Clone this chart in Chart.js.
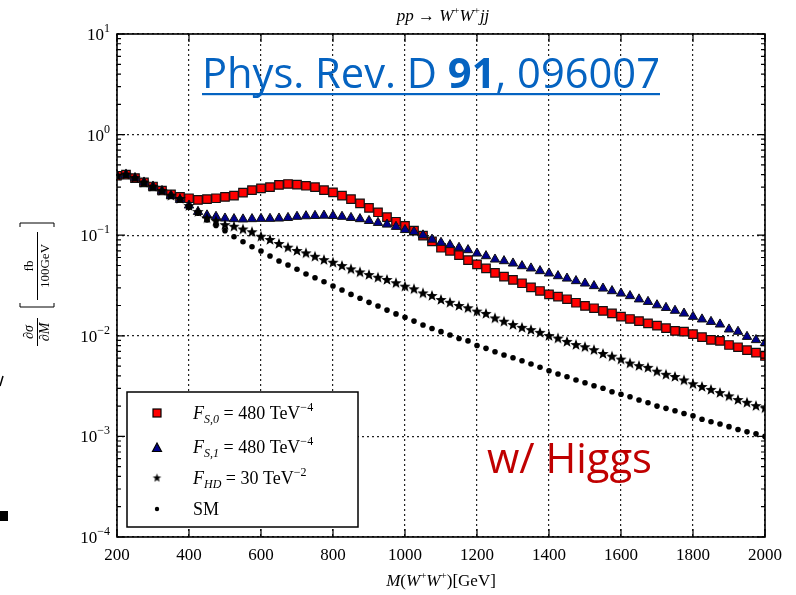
<!DOCTYPE html>
<html>
<head>
<meta charset="utf-8">
<script src="https://cdn.jsdelivr.net/npm/chart.js@4.4.1/dist/chart.umd.min.js"></script>
<style>
  html, body { margin: 0; padding: 0; background: #fff; }
  #wwChart { display: block; }
</style>
</head>
<body>
<canvas id="wwChart" width="796" height="595"></canvas>
<script>
// invariant mass of the W+W+ pair, GeV
const mass = [200, 225, 250, 275, 300, 325, 350, 375, 400, 425, 450, 475, 500, 525, 550, 575,
  600, 625, 650, 675, 700, 725, 750, 775, 800, 825, 850, 875, 900, 925, 950, 975,
  1000, 1025, 1050, 1075, 1100, 1125, 1150, 1175, 1200, 1225, 1250, 1275, 1300, 1325, 1350, 1375,
  1400, 1425, 1450, 1475, 1500, 1525, 1550, 1575, 1600, 1625, 1650, 1675, 1700, 1725, 1750, 1775,
  1800, 1825, 1850, 1875, 1900, 1925, 1950, 1975, 2000];

// dsigma/dM [fb / 100 GeV]
const fs0 = [0.39, 0.40, 0.37, 0.335, 0.305, 0.278, 0.255, 0.24, 0.233, 0.224, 0.228, 0.233, 0.24, 0.247, 0.265, 0.28,
  0.292, 0.30, 0.316, 0.323, 0.318, 0.31, 0.30, 0.28, 0.267, 0.247, 0.228, 0.207, 0.187, 0.169, 0.151, 0.136,
  0.124, 0.111, 0.099, 0.087, 0.075, 0.070, 0.0635, 0.0566, 0.0513, 0.0468, 0.0423, 0.0387, 0.0359, 0.0333, 0.0303, 0.0279,
  0.0258, 0.0245, 0.0231, 0.0213, 0.0198, 0.0188, 0.0177, 0.0167, 0.0155, 0.0147, 0.014, 0.0133, 0.0126, 0.0119, 0.0112, 0.011,
  0.0104, 0.0097, 0.0091, 0.0089, 0.0081, 0.0077, 0.0072, 0.0068, 0.0063];

const fs1 = [0.39, 0.40, 0.37, 0.335, 0.305, 0.275, 0.248, 0.225, 0.198, 0.171, 0.158, 0.153, 0.147, 0.145, 0.144, 0.145,
  0.146, 0.146, 0.147, 0.149, 0.153, 0.155, 0.156, 0.157, 0.156, 0.153, 0.149, 0.145, 0.139, 0.133, 0.128, 0.1215,
  0.113, 0.108, 0.100, 0.0906, 0.0843, 0.080, 0.0752, 0.0713, 0.066, 0.0621, 0.0575, 0.0554, 0.0525, 0.0494, 0.0469, 0.0441,
  0.0418, 0.0393, 0.0372, 0.0351, 0.0332, 0.0313, 0.0296, 0.0279, 0.0264, 0.0249, 0.0231, 0.0218, 0.0202, 0.019, 0.0178, 0.0167,
  0.0155, 0.0146, 0.0138, 0.013, 0.0116, 0.011, 0.0098, 0.0091, 0.0085];

const fhd = [0.39, 0.40, 0.37, 0.333, 0.303, 0.275, 0.247, 0.229, 0.195, 0.17, 0.147, 0.138, 0.126, 0.1215, 0.114, 0.107,
  0.0966, 0.0896, 0.0818, 0.0752, 0.0697, 0.066, 0.061, 0.0566, 0.0533, 0.0494, 0.0458, 0.0427, 0.0402, 0.0378, 0.0359, 0.0333,
  0.0308, 0.029, 0.0264, 0.0249, 0.0227, 0.0213, 0.0198, 0.0188, 0.0174, 0.0165, 0.0149, 0.0138, 0.0128, 0.012, 0.0114, 0.0107,
  0.00995, 0.0094, 0.0087, 0.0081, 0.0077, 0.0072, 0.0066, 0.0062, 0.0058, 0.0053, 0.005, 0.0048, 0.0044, 0.0041, 0.0039, 0.0036,
  0.0033, 0.0031, 0.0029, 0.0027, 0.0025, 0.0023, 0.00216, 0.002, 0.0019];

const sm = [0.385, 0.395, 0.365, 0.33, 0.30, 0.272, 0.245, 0.226, 0.19, 0.165, 0.142, 0.125, 0.111, 0.0966, 0.0862, 0.0769,
  0.0697, 0.0621, 0.0554, 0.0506, 0.0458, 0.0411, 0.0378, 0.0345, 0.0313, 0.0285, 0.0258, 0.0236, 0.0215, 0.0198, 0.018, 0.0165,
  0.0153, 0.014, 0.0128, 0.0118, 0.011, 0.0102, 0.0094, 0.0089, 0.008, 0.0075, 0.00695, 0.00644, 0.00605, 0.00565, 0.00524, 0.00486,
  0.0045, 0.00417, 0.00392, 0.00364, 0.00342, 0.00319, 0.00301, 0.00278, 0.00262, 0.00248, 0.0023, 0.00216, 0.002, 0.0019, 0.0018, 0.00169,
  0.0016, 0.00148, 0.0014, 0.00133, 0.00125, 0.00117, 0.00111, 0.00106, 0.001];

const xTicks = [200, 400, 600, 800, 1000, 1200, 1400, 1600, 1800, 2000];
const yDecades = [-4, -3, -2, -1, 0, 1];

const SERIF = '"Liberation Serif", "DejaVu Serif", serif';
const SANS = '"Open Sans", "Noto Sans", sans-serif';

function isDecade(v) {
  const l = Math.log10(v);
  return Math.abs(l - Math.round(l)) < 1e-6;
}

// filled five point star used as a point style
function makeStar(r) {
  const c = document.createElement('canvas');
  const s = Math.ceil(r * 2 + 2);
  c.width = s; c.height = s;
  const g = c.getContext('2d');
  g.beginPath();
  for (let i = 0; i < 10; i++) {
    const rad = i % 2 ? r * 0.42 : r;
    const a = -Math.PI / 2 + i * Math.PI / 5;
    g.lineTo(s / 2 + rad * Math.cos(a), s / 2 + rad * Math.sin(a));
  }
  g.closePath();
  g.fillStyle = '#000';
  g.fill();
  return c;
}
const starImg = makeStar(6);
const starSmall = makeStar(4.5);

function pts(arr) {
  return mass.map((m, i) => ({ x: m, y: arr[i] }));
}

// draw a run of text pieces: {t, f (font), dy}
function rich(ctx, x, y, parts, align) {
  let w = 0;
  parts.forEach(p => { ctx.font = p.f; w += ctx.measureText(p.t).width; });
  let cx = align === 'center' ? x - w / 2 : (align === 'right' ? x - w : x);
  ctx.textAlign = 'left';
  parts.forEach(p => {
    ctx.font = p.f;
    ctx.fillText(p.t, cx, y + (p.dy || 0));
    cx += ctx.measureText(p.t).width;
  });
  return w;
}

const overlay = {
  id: 'overlay',
  afterDraw(chart) {
    const { ctx, chartArea: a, scales: { x, y } } = chart;
    ctx.save();
    ctx.fillStyle = '#000';
    ctx.strokeStyle = '#000';
    ctx.textBaseline = 'alphabetic';

    // frame
    ctx.lineWidth = 1.6;
    ctx.strokeRect(a.left, a.top, a.right - a.left, a.bottom - a.top);

    // inward tick marks
    ctx.lineWidth = 1.2;
    ctx.beginPath();
    x.ticks.forEach(t => {
      const px = x.getPixelForValue(t.value);
      ctx.moveTo(px, a.bottom); ctx.lineTo(px, a.bottom - 8);
      ctx.moveTo(px, a.top); ctx.lineTo(px, a.top + 8);
    });
    y.ticks.forEach(t => {
      const py = y.getPixelForValue(t.value);
      const len = isDecade(t.value) ? 8 : 4;
      ctx.moveTo(a.left, py); ctx.lineTo(a.left + len, py);
      ctx.moveTo(a.right, py); ctx.lineTo(a.right - len, py);
    });
    ctx.stroke();

    // y tick labels 10^n
    yDecades.forEach(e => {
      const py = y.getPixelForValue(Math.pow(10, e));
      const sup = e < 0 ? '\u2212' + (-e) : String(e);
      rich(ctx, a.left - 7, py + 6, [
        { t: '10', f: '17px ' + SERIF },
        { t: sup, f: '12px ' + SERIF, dy: -8 }
      ], 'right');
    });

    // title
    const it = 'italic 17px ' + SERIF, rm = '17px ' + SERIF, sp = '11px ' + SERIF;
    rich(ctx, 443, 21, [
      { t: 'pp', f: it }, { t: ' \u2192 ', f: rm }, { t: 'W', f: it }, { t: '+', f: sp, dy: -7 },
      { t: 'W', f: it }, { t: '+', f: sp, dy: -7 }, { t: 'jj', f: it }
    ], 'center');

    // x axis title
    rich(ctx, 441, 586, [
      { t: 'M', f: it }, { t: '(', f: rm }, { t: 'W', f: it }, { t: '+', f: sp, dy: -7 },
      { t: 'W', f: it }, { t: '+', f: sp, dy: -7 }, { t: ')[GeV]', f: rm }
    ], 'center');

    // y axis title, rotated
    ctx.save();
    ctx.translate(37, 284);
    ctx.rotate(-Math.PI / 2);
    ctx.textAlign = 'center';
    ctx.font = 'italic 14px ' + SERIF;
    ctx.fillText('\u2202\u03c3', -48, -4);
    ctx.fillText('\u2202M', -48, 12);
    ctx.lineWidth = 1;
    ctx.beginPath();
    ctx.moveTo(-62, 0.5); ctx.lineTo(-34, 0.5);
    ctx.moveTo(-16, 0.5); ctx.lineTo(52, 0.5);
    // brackets
    ctx.moveTo(-19, -17); ctx.lineTo(-23, -17); ctx.lineTo(-23, 17); ctx.lineTo(-19, 17);
    ctx.moveTo(57, -17); ctx.lineTo(61, -17); ctx.lineTo(61, 17); ctx.lineTo(57, 17);
    ctx.stroke();
    ctx.font = '13px ' + SERIF;
    ctx.fillText('fb', 18, -4);
    ctx.fillText('100GeV', 18, 12);
    ctx.restore();

    // legend
    const L = { l: 127, t: 392, r: 358, b: 527 };
    ctx.fillStyle = '#fff';
    ctx.fillRect(L.l, L.t, L.r - L.l, L.b - L.t);
    ctx.lineWidth = 1.5;
    ctx.strokeStyle = '#000';
    ctx.strokeRect(L.l, L.t, L.r - L.l, L.b - L.t);
    const mx = 157;
    // square
    ctx.fillStyle = '#ff0000';
    ctx.fillRect(mx - 4, 409, 8, 8);
    ctx.lineWidth = 1.2;
    ctx.strokeRect(mx - 4, 409, 8, 8);
    // triangle
    ctx.fillStyle = '#00008b';
    ctx.beginPath();
    ctx.moveTo(mx, 443); ctx.lineTo(mx + 4.5, 451.5); ctx.lineTo(mx - 4.5, 451.5); ctx.closePath();
    ctx.fill(); ctx.stroke();
    // star
    ctx.drawImage(starSmall, mx - starSmall.width / 2, 478 - starSmall.height / 2);
    // dot
    ctx.fillStyle = '#000';
    ctx.beginPath(); ctx.arc(mx, 509, 2.2, 0, Math.PI * 2); ctx.fill();

    const lf = 'italic 18px ' + SERIF, lr = '18px ' + SERIF, ls = 'italic 12px ' + SERIF, lu = '12px ' + SERIF;
    rich(ctx, 193, 419, [{ t: 'F', f: lf }, { t: 'S,0', f: ls, dy: 4 }, { t: ' = 480 TeV', f: lr }, { t: '\u22124', f: lu, dy: -8 }]);
    rich(ctx, 193, 453, [{ t: 'F', f: lf }, { t: 'S,1', f: ls, dy: 4 }, { t: ' = 480 TeV', f: lr }, { t: '\u22124', f: lu, dy: -8 }]);
    rich(ctx, 193, 484, [{ t: 'F', f: lf }, { t: 'HD', f: ls, dy: 4 }, { t: ' = 30 TeV', f: lr }, { t: '\u22122', f: lu, dy: -8 }]);
    rich(ctx, 193, 515, [{ t: 'SM', f: lr }]);

    // reference link
    ctx.fillStyle = '#0563c1';
    const pf = '42px ' + SANS, pb = 'bold 42px ' + SANS;
    ctx.save();
    const parts = [{ t: 'Phys. Rev. D ', f: pf }, { t: '91', f: pb }, { t: ', 096007', f: pf }];
    let w = 0;
    parts.forEach(p => { ctx.font = p.f; w += ctx.measureText(p.t).width; });
    const sx = 458 / w;
    ctx.translate(202, 88);
    ctx.scale(sx, 1);
    rich(ctx, 0, 0, parts);
    ctx.fillRect(0, 5, w, 2.2);
    ctx.restore();

    // annotation
    ctx.fillStyle = '#c00000';
    ctx.save();
    ctx.font = '42px ' + SANS;
    const hw = ctx.measureText('w/ Higgs').width;
    ctx.translate(487, 473);
    ctx.scale(165 / hw, 1);
    ctx.fillText('w/ Higgs', 0, 0);
    ctx.restore();

    // slide edge leftovers
    ctx.fillStyle = '#000';
    ctx.fillRect(0, 511, 8, 10);
    ctx.lineWidth = 1.5;
    ctx.beginPath(); ctx.moveTo(0, 386); ctx.lineTo(3, 376); ctx.stroke();

    ctx.restore();
  }
};

const ctx = document.getElementById('wwChart').getContext('2d');
const chart = new Chart(ctx, {
  type: 'scatter',
  data: {
    datasets: [
      {
        label: 'FS0', data: pts(fs0), order: 4,
        pointStyle: 'rect', pointRadius: 6, pointHoverRadius: 6,
        backgroundColor: '#ff0000', borderColor: '#111', borderWidth: 1.2
      },
      {
        label: 'FS1', data: pts(fs1), order: 3,
        pointStyle: 'triangle', pointRadius: 5.4, pointHoverRadius: 5.4,
        backgroundColor: '#00008b', borderColor: '#111', borderWidth: 1
      },
      {
        label: 'FHD', data: pts(fhd), order: 2,
        pointStyle: starImg, pointRadius: 6
      },
      {
        label: 'SM', data: pts(sm), order: 1,
        pointStyle: 'circle', pointRadius: 2.8, pointHoverRadius: 2.8,
        backgroundColor: '#000', borderColor: '#000', borderWidth: 0
      }
    ]
  },
  options: {
    responsive: false,
    animation: false,
    devicePixelRatio: 1,
    layout: { padding: { top: 34, right: 31, left: 0, bottom: 0 } },
    plugins: { legend: { display: false }, tooltip: { enabled: false } },
    scales: {
      x: {
        type: 'linear', min: 200, max: 2000,
        afterBuildTicks: s => { s.ticks = xTicks.map(v => ({ value: v })); },
        afterFit: s => { s.height = 58; },
        ticks: {
          color: '#000', padding: 8, font: { family: SERIF, size: 17 }, maxRotation: 0, autoSkip: false,
          callback: v => String(v)
        },
        grid: { color: '#222', lineWidth: 1.2, drawTicks: false },
        border: { display: false, dash: [2, 3] }
      },
      y: {
        type: 'logarithmic', min: 1e-4, max: 10,
        afterBuildTicks: s => {
          const t = [];
          yDecades.forEach(e => {
            for (let m = 1; m < 10; m++) {
              const v = m * Math.pow(10, e);
              if (v <= 10.0001) t.push({ value: v });
            }
          });
          s.ticks = t;
        },
        afterFit: s => { s.width = 117; },
        ticks: { display: false, autoSkip: false },
        grid: {
          color: c => (c.tick && isDecade(c.tick.value)) ? '#222' : 'rgba(0,0,0,0)',
          lineWidth: 1.2, drawTicks: false
        },
        border: { display: false, dash: [2, 3] }
      }
    }
  },
  plugins: [overlay]
});
</script>
</body>
</html>
